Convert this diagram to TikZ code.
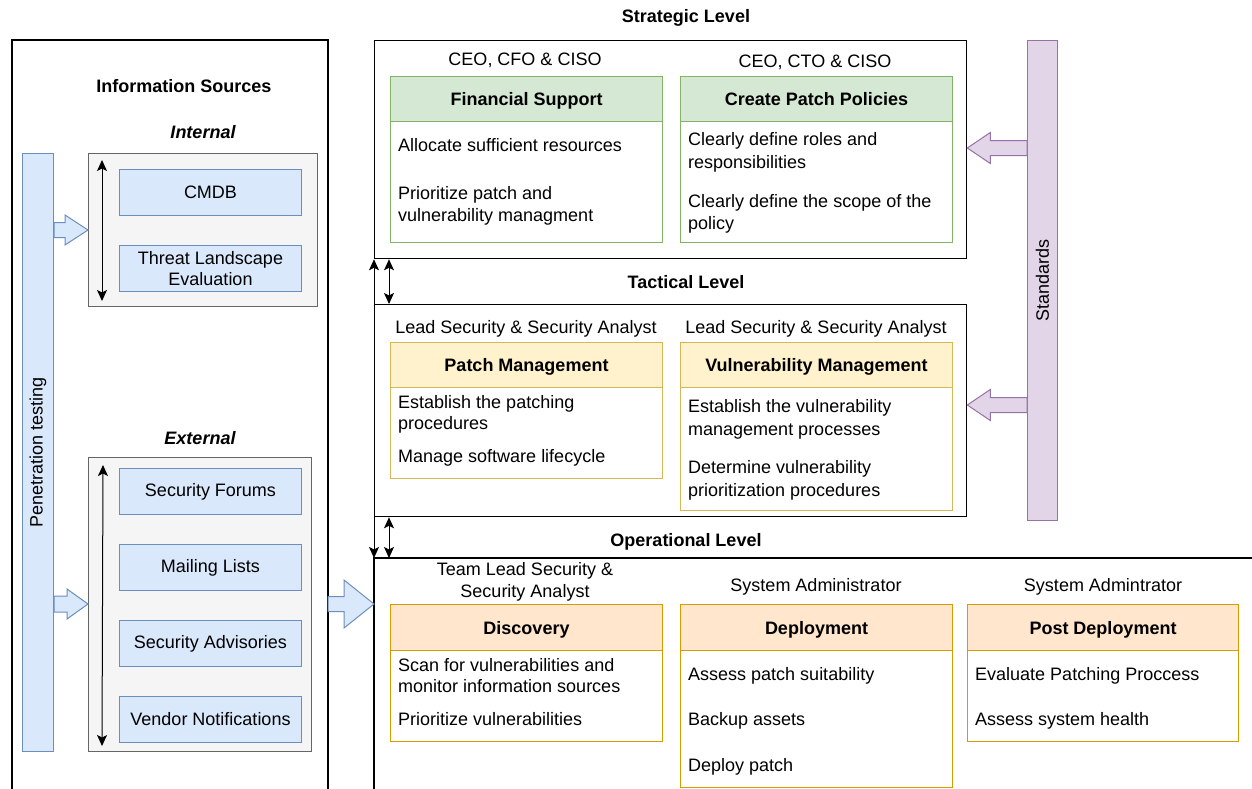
\documentclass[tikz,border=0pt]{standalone}
\usepackage{fontspec}
\setmainfont{Liberation Sans}
\usetikzlibrary{arrows.meta,calc}

\definecolor{srcline}{HTML}{6C8EBF}
\definecolor{srcfill}{HTML}{DAE8FC}
\definecolor{grpline}{HTML}{666666}
\definecolor{grpfill}{HTML}{F5F5F5}
\definecolor{greenline}{HTML}{82B366}
\definecolor{greenfill}{HTML}{D5E8D4}
\definecolor{yellowline}{HTML}{D6B656}
\definecolor{yellowfill}{HTML}{FFF2CC}
\definecolor{orangeline}{HTML}{D79B00}
\definecolor{orangefill}{HTML}{FFE6CC}
\definecolor{purpleline}{HTML}{9673A6}
\definecolor{purplefill}{HTML}{E1D5E7}

% block arrow from #1 to tip #2: half shaft #3, half head #4, head length #5, style #6
\newcommand{\blockarr}[6]{%
  \coordinate (hb) at ($(#2)!#5pt!(#1)$);
  \draw[#6] ($(#1)+(0,-#3)$) -- ($(hb)+(0,-#3)$) -- ($(hb)+(0,-#4)$) -- (#2)
    -- ($(hb)+(0,#4)$) -- ($(hb)+(0,#3)$) -- ($(#1)+(0,#3)$) -- cycle;}

\tikzset{headtip/.tip={Stealth[length=11pt,width=10pt,inset=2.5pt]}}

\begin{document}
\begin{tikzpicture}[x=1pt,y=-1pt,
  txt/.style={font=\fontsize{18}{21.5}\selectfont, inner sep=0pt},
  lbl/.style={txt, anchor=base},
  lvl/.style={lbl, font=\fontsize{18}{21.5}\selectfont\bfseries},
  itm/.style={txt, anchor=base west},
  outer/.style={draw=black, line width=1.3pt},
  src/.style={txt, draw=srcline, fill=srcfill, line width=1pt,
    minimum width=182pt, minimum height=46pt, anchor=north west, align=center},
  grp/.style={draw=grpline, fill=grpfill, line width=1pt, anchor=north west, inner sep=0pt},
  hdr/.style={txt, font=\fontsize{18}{21.5}\selectfont\bfseries, draw=#1line, fill=#1fill,
    line width=1pt, minimum width=272pt, minimum height=45pt, anchor=north west,
    text height=13pt, text depth=0pt},
  bdy/.style={draw=#1line, fill=white, line width=1pt, minimum width=272pt,
    anchor=north west, inner sep=0pt},
  dbl/.style={headtip-headtip, line width=1pt},
  sgl/.style={-headtip, line width=1pt},
  barrow/.style={draw=#1line, fill=#1fill, line width=1pt, line join=miter}
]
\useasboundingbox (0,0) rectangle (1252,789);

% ---------------- information sources panel ----------------
\draw[outer] (12,789) -- (12,40) -- (328,40) -- (328,789);
\coordinate (panelR) at (328,604);
\node[lvl] (infosrc) at (184,93) {Information Sources};
\node[lvl, font=\fontsize{18}{21.5}\selectfont\bfseries\itshape] (intlbl) at (203,139) {Internal};
\node[lvl, font=\fontsize{18}{21.5}\selectfont\bfseries\itshape] (extlbl) at (200,444) {External};

\node[draw=srcline, fill=srcfill, line width=1pt, anchor=north west, inner sep=0pt,
  minimum width=31pt, minimum height=598pt] (pen) at (22,153) {};
\node[txt, rotate=90] (pentxt) at (pen.center) {Penetration testing};

\node[grp, minimum width=229pt, minimum height=153pt] (int) at (88,153) {};
\node[src] (cmdb) at (119,169) {CMDB};
\node[src] (threat) at (119,245) {Threat Landscape\\[-1pt]Evaluation};
\draw[dbl] ($(int.north west)+(14,7)$) -- ($(int.south west)+(14,-6)$);

\node[grp, minimum width=223pt, minimum height=294pt] (ext) at (88,457) {};
\node[src] (forums) at (119,468) {Security Forums};
\node[src] (mail) at (119,544) {Mailing Lists};
\node[src] (advis) at (119,620) {Security Advisories};
\node[src] (vendor) at (119,696) {Vendor Notifications};
\draw[dbl] ($(ext.north west)+(15,8)$) -- ($(ext.south west)+(14,-6)$);

\coordinate (penA) at (pen.east |- 0,230);
\coordinate (intA) at (int.west |- 0,230);
\blockarr{penA}{intA}{7.5}{15}{23}{barrow=src}
\coordinate (penB) at (pen.east |- 0,604);
\coordinate (extB) at (ext.west |- 0,604);
\blockarr{penB}{extB}{8}{15}{21}{barrow=src}

% ---------------- strategic level ----------------
\node[lvl] (strlbl) at (686,23) {Strategic Level};
\node[outer, anchor=north west, inner sep=0pt, minimum width=592pt, minimum height=218pt] (str) at (374,40) {};
\node[lbl] (fsrole) at (525,66) {CEO, CFO \& CISO};
\node[lbl] (cprole) at (815,68) {CEO, CTO \& CISO};

\node[bdy=green, minimum height=121pt] (fsb) at (390,121) {};
\node[hdr=green] (fs) at (390,76) {Financial Support};
\node[itm] (fs1) at (398,151) {Allocate sufficient resources};
\node[itm] (fs2) at (398,199) {Prioritize patch and};
\node[itm] (fs3) at (398,221) {vulnerability managment};

\node[bdy=green, minimum height=121pt] (cpb) at (680,121) {};
\node[hdr=green] (cp) at (680,76) {Create Patch Policies};
\node[itm] (cp1) at (688,146) {Clearly define roles and};
\node[itm] (cp2) at (688,168) {responsibilities};
\node[itm] (cp3) at (688,207) {Clearly define the scope of the};
\node[itm] (cp4) at (688,229) {policy};

% ---------------- tactical level ----------------
\node[lvl] (taclbl) at (686,288) {Tactical Level};
\node[outer, anchor=north west, inner sep=0pt, minimum width=592pt, minimum height=212pt] (tac) at (374,304) {};
\node[lbl] (pmrole) at (526,333) {Lead Security \& Security Analyst};
\node[lbl] (vmrole) at (816,333) {Lead Security \& Security Analyst};

\node[bdy=yellow, minimum height=91pt] (pmb) at (390,387) {};
\node[hdr=yellow] (pm) at (390,342) {Patch Management};
\node[itm] (pm1) at (398,408) {Establish the patching};
\node[itm] (pm2) at (398,429) {procedures};
\node[itm] (pm3) at (398,462) {Manage software lifecycle};

\node[bdy=yellow, minimum height=123pt] (vmb) at (680,387) {};
\node[hdr=yellow] (vm) at (680,342) {Vulnerability Management};
\node[itm] (vm1) at (688,412) {Establish the vulnerability};
\node[itm] (vm2) at (688,435) {management processes};
\node[itm] (vm3) at (688,473) {Determine vulnerability};
\node[itm] (vm4) at (688,496) {prioritization procedures};

% ---------------- operational level ----------------
\node[lvl] (oplbl) at (686,546) {Operational Level};
\coordinate (opTL) at (374,558);
\draw[outer] (1252,558) -- (opTL) -- (374,789);
\coordinate (opA) at (374,604);
\node[lbl] (dsrole1) at (525,575) {Team Lead Security \&};
\node[lbl] (dsrole2) at (525,597) {Security Analyst};
\node[lbl] (dprole) at (816,591) {System Administrator};
\node[lbl] (pdrole) at (1103,591) {System Admintrator};

\node[bdy=orange, minimum height=91pt] (dsb) at (390,650) {};
\node[hdr=orange, minimum height=46pt] (ds) at (390,604) {Discovery};
\node[itm] (ds1) at (398,671) {Scan for vulnerabilities and};
\node[itm] (ds2) at (398,692) {monitor information sources};
\node[itm] (ds3) at (398,725) {Prioritize vulnerabilities};

\node[bdy=orange, minimum height=137pt] (dpb) at (680,650) {};
\node[hdr=orange, minimum height=46pt] (dp) at (680,604) {Deployment};
\node[itm] (dp1) at (688,680) {Assess patch suitability};
\node[itm] (dp2) at (688,725) {Backup assets};
\node[itm] (dp3) at (688,771) {Deploy patch};

\node[bdy=orange, minimum height=91pt, minimum width=271pt] (pdb) at (967,650) {};
\node[hdr=orange, minimum height=46pt, minimum width=271pt] (pd) at (967,604) {Post Deployment};
\node[itm] (pd1) at (975,680) {Evaluate Patching Proccess};
\node[itm] (pd2) at (975,725) {Assess system health};

% ---------------- links between levels ----------------
\draw[sgl] (tac.north west) -- (str.south west);
\draw[dbl] ([xshift=15pt]str.south west) -- ([xshift=15pt]tac.north west);
\draw[sgl] (tac.south west) -- (opTL);
\draw[dbl] ([xshift=15pt]tac.south west) -- ($(opTL)+(15,0)$);

\blockarr{panelR}{opA}{7.5}{24}{30}{barrow=src}

% ---------------- standards ----------------
\node[draw=purpleline, fill=purplefill, line width=1pt, anchor=north west, inner sep=0pt,
  minimum width=30pt, minimum height=480pt] (std) at (1027,40) {};
\node[txt, rotate=90] (stdtxt) at (std.center) {Standards};
\coordinate (stdA) at (std.west |- 0,148);
\coordinate (strA) at (str.east |- 0,148);
\blockarr{stdA}{strA}{7.5}{15.5}{23}{barrow=purple}
\coordinate (stdB) at (std.west |- 0,405);
\coordinate (tacB) at (tac.east |- 0,405);
\blockarr{stdB}{tacB}{7.5}{15.5}{23}{barrow=purple}
\end{tikzpicture}
\end{document}
